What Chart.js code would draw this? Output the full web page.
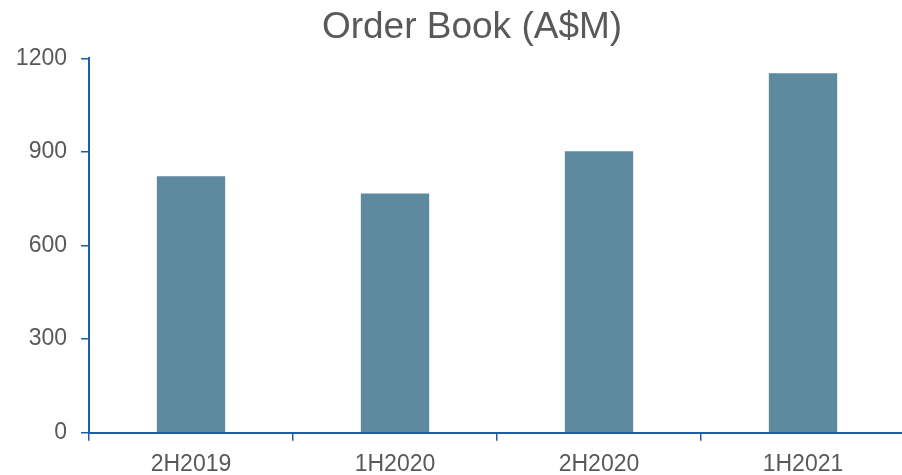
<!DOCTYPE html>
<html>
<head>
<meta charset="utf-8">
<script src="https://cdn.jsdelivr.net/npm/chart.js@4/dist/chart.umd.min.js"></script>
<style>
  html, body { margin: 0; padding: 0; overflow: hidden; background: #ffffff; }
  #wrap { position: relative; width: 944px; height: 475px; }
</style>
</head>
<body>
<div id="wrap"><canvas id="c"></canvas></div>
<script>
const categories = ['2H2019', '1H2020', '2H2020', '1H2021'];
const orderBook = [822, 767, 902, 1152];
const yTicks = [0, 300, 600, 900, 1200];
const titleText = 'Order Book (A$M)';

const axisBlue = '#1F5FAA';
const textGrey = '#595959';
const barColor = '#5E8AA0';

Chart.defaults.font.family = '"Liberation Sans", Arial, sans-serif';
Chart.defaults.color = textGrey;

new Chart(document.getElementById('c'), {
  type: 'bar',
  data: {
    labels: categories,
    datasets: [{
      label: titleText,
      data: orderBook,
      backgroundColor: barColor,
      borderWidth: 0,
      barPercentage: 0.335,
      categoryPercentage: 1.0
    }]
  },
  options: {
    responsive: true,
    maintainAspectRatio: false,
    animation: false,
    layout: { padding: 0 },
    plugins: {
      legend: { display: false },
      tooltip: { enabled: false },
      title: {
        display: true,
        text: titleText,
        color: textGrey,
        font: { size: 37, weight: 'normal', lineHeight: 1.2 },
        padding: { top: 6, bottom: 8 }
      }
    },
    scales: {
      x: {
        grid: {
          display: true,
          drawOnChartArea: false,
          drawTicks: true,
          tickLength: 8,
          color: axisBlue,
          lineWidth: 1.5,
          offset: true
        },
        border: { display: true, color: axisBlue, width: 2 },
        ticks: {
          color: textGrey,
          font: { size: 23 },
          padding: 10,
          maxRotation: 0
        },
        afterFit: s => { s.height = 42.3; }
      },
      y: {
        min: 0,
        max: 1200,
        afterBuildTicks: s => { s.ticks = yTicks.map(v => ({ value: v })); },
        grid: {
          display: true,
          drawOnChartArea: false,
          drawTicks: true,
          tickLength: 8,
          color: axisBlue,
          lineWidth: 1.5
        },
        border: { display: true, color: axisBlue, width: 2 },
        ticks: {
          color: textGrey,
          font: { size: 23 },
          padding: 14,
          callback: v => String(v)
        },
        afterFit: s => { s.width = 89; }
      },
      pad: {
        type: 'linear',
        position: 'right',
        display: true,
        grid: { display: false, drawTicks: false },
        border: { display: false },
        ticks: { display: false },
        afterFit: s => { s.width = 39; }
      }
    }
  }
});
</script>
</body>
</html>
